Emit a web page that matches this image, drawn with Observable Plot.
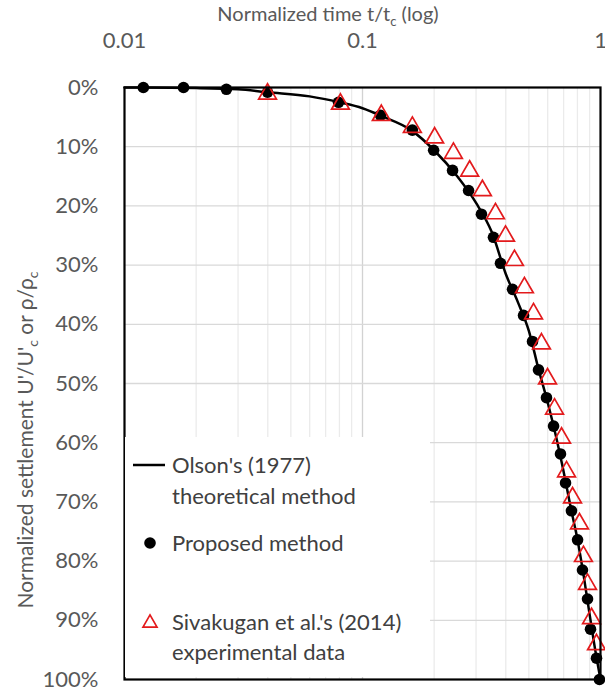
<!DOCTYPE html>
<html><head><meta charset="utf-8">
<script src="https://cdn.jsdelivr.net/npm/d3@7"></script>
<script src="https://cdn.jsdelivr.net/npm/@observablehq/plot@0.6"></script>
<style>body{margin:0;background:#fff}#chart{width:605px;height:690px}</style>
</head><body><div id="chart"></div>
<script>
// Proposed method (black dots)
const proposedT = [0.0120,0.0177,0.0268,0.0399,0.0793,0.119,0.162,0.199,0.239,0.279,0.316,0.355,0.380,0.427,0.475,0.518,0.549,0.593,0.635,0.679,0.713,0.755,0.801,0.840,0.882,0.908,0.962,0.99];
const proposedU = [0,0,0.3,0.8,2.5,4.7,7.2,10.6,14.0,17.4,21.4,25.3,29.7,34.1,38.5,42.9,47.7,52.4,57.2,61.9,66.8,71.5,76.4,81.5,86.4,91.5,96.4,100];
// Sivakugan et al. (2014) experimental data (red triangles)
const expT = [0.0399,0.0808,0.120,0.162,0.201,0.241,0.282,0.319,0.362,0.399,0.435,0.479,0.523,0.565,0.599,0.641,0.686,0.720,0.763,0.816,0.848,0.882,0.917,0.962];
const expU = [1.1,2.8,4.7,6.7,8.5,11.1,14.1,17.4,21.3,25.1,29.2,33.8,38.2,43.3,49.2,54.3,59.2,64.9,69.3,73.7,79.2,83.9,89.7,94.1];
// Olson's (1977) theoretical curve
const olsonT = [0.01,0.02,0.03,0.04,0.06,0.08,0.1,0.12,0.16,0.2,0.25,0.3,0.35,0.4,0.45,0.5,0.55,0.6,0.65,0.7,0.75,0.8,0.85,0.9,0.95,1.0];
const olsonU = [0,0.1,0.3,0.8,1.5,2.5,3.5,4.8,7.2,10.6,15.0,19.5,24.5,31.5,36.3,41.1,47.7,53.2,58.9,64.9,71.0,76.3,82.5,89.0,95.0,100];
// Axis ticks
const xTicks = [0.01, 0.1, 1];
const xMinor = [0.02,0.03,0.04,0.05,0.06,0.07,0.08,0.09,0.2,0.3,0.4,0.5,0.6,0.7,0.8,0.9];
const yTicks = [0,10,20,30,40,50,60,70,80,90,100];
const yGrid = [10,20,30,40,50,60,70,80,90];

const proposed = proposedT.map((t,i)=>({t, u: proposedU[i]}));
const exp = expT.map((t,i)=>({t, u: expU[i]}));
const olson = olsonT.map((t,i)=>({t, u: olsonU[i]}));

const FONT = "Lato, 'Open Sans', sans-serif";
const chart = Plot.plot({
  width: 605, height: 690,
  marginLeft: 124, marginRight: 5, marginTop: 87, marginBottom: 11,
  style: {fontFamily: FONT, fontSize: "22px", color: "#595959", background: "white", overflow: "visible"},
  x: {type: "log", domain: [0.01, 1]},
  y: {domain: [0, 100], reverse: true},
  marks: [
    Plot.gridX(xMinor, {stroke: "#ebebeb", strokeOpacity: 1, strokeWidth: 1.3}),
    Plot.gridX([0.1], {stroke: "#d2d2d2", strokeOpacity: 1, strokeWidth: 1.3}),
    Plot.gridY(yGrid, {stroke: "#d9d9d9", strokeOpacity: 1, strokeWidth: 1.3}),
    Plot.axisX(xTicks, {anchor: "top", tickSize: 0, tickPadding: 40, tickFormat: d => String(d), label: null, fontSize: 22}),
    Plot.axisY(yTicks, {anchor: "left", tickSize: 0, tickPadding: 26, tickFormat: d => d + "%", label: null, fontSize: 22}),
    Plot.line(olson, {x: "t", y: "u", stroke: "black", strokeWidth: 2.5, curve: "monotone-x"}),
    Plot.dot(proposed, {x: "t", y: "u", r: 5.8, fill: "black", stroke: "none"}),
    Plot.dot(exp, {x: "t", y: "u", symbol: "triangle", r: 6.6, stroke: "#e31a1c", strokeWidth: 1.7, fill: "none"}),
    Plot.frame({stroke: "black", strokeWidth: 2.2})
  ]
});
document.getElementById("chart").appendChild(chart);

const svg = d3.select(chart);
// Axis titles
const xt = svg.append("text").attr("x", 328).attr("y", 21).attr("text-anchor", "middle")
  .attr("fill", "#595959").style("font-family", FONT).style("font-size", "20px");
xt.append("tspan").text("Normalized time t/t");
xt.append("tspan").attr("dy", 5).style("font-size", "13px").text("c");
xt.append("tspan").attr("dy", -5).text(" (log)");

const yt = svg.append("text").attr("transform", "translate(33,440) rotate(-90)").attr("text-anchor", "middle")
  .attr("fill", "#595959").style("font-family", FONT).style("font-size", "21px");
yt.append("tspan").text("Normalized settlement U'/U'");
yt.append("tspan").attr("dy", 5).style("font-size", "14px").text("c");
yt.append("tspan").attr("dy", -5).text(" or ρ/ρ");
yt.append("tspan").attr("dy", 5).style("font-size", "14px").text("c");

// Legend (white box over the gridlines, no border of its own)
const lg = svg.append("g").style("font-family", FONT).style("font-size", "22px")
  .attr("fill", "#404040").attr("text-anchor", "start");
lg.append("rect").attr("x", 125).attr("y", 437).attr("width", 305).attr("height", 240)
  .attr("fill", "white").attr("stroke", "none");
lg.append("line").attr("x1", 133).attr("x2", 165).attr("y1", 465).attr("y2", 465).attr("stroke", "black").attr("stroke-width", 2.5);
lg.append("text").attr("x", 172).attr("y", 473).text("Olson's (1977)");
lg.append("text").attr("x", 172).attr("y", 504).text("theoretical method");
lg.append("circle").attr("cx", 150).attr("cy", 543).attr("r", 5.8).attr("fill", "black");
lg.append("text").attr("x", 172).attr("y", 551).text("Proposed method");
lg.append("path").attr("transform", "translate(150,623)").attr("d", d3.symbol(d3.symbolTriangle, Math.PI * 5.2 * 5.2)())
  .attr("fill", "none").attr("stroke", "#e31a1c").attr("stroke-width", 1.7);
lg.append("text").attr("x", 172).attr("y", 630).text("Sivakugan et al.'s (2014)");
lg.append("text").attr("x", 172).attr("y", 660).text("experimental data");
</script></body></html>
